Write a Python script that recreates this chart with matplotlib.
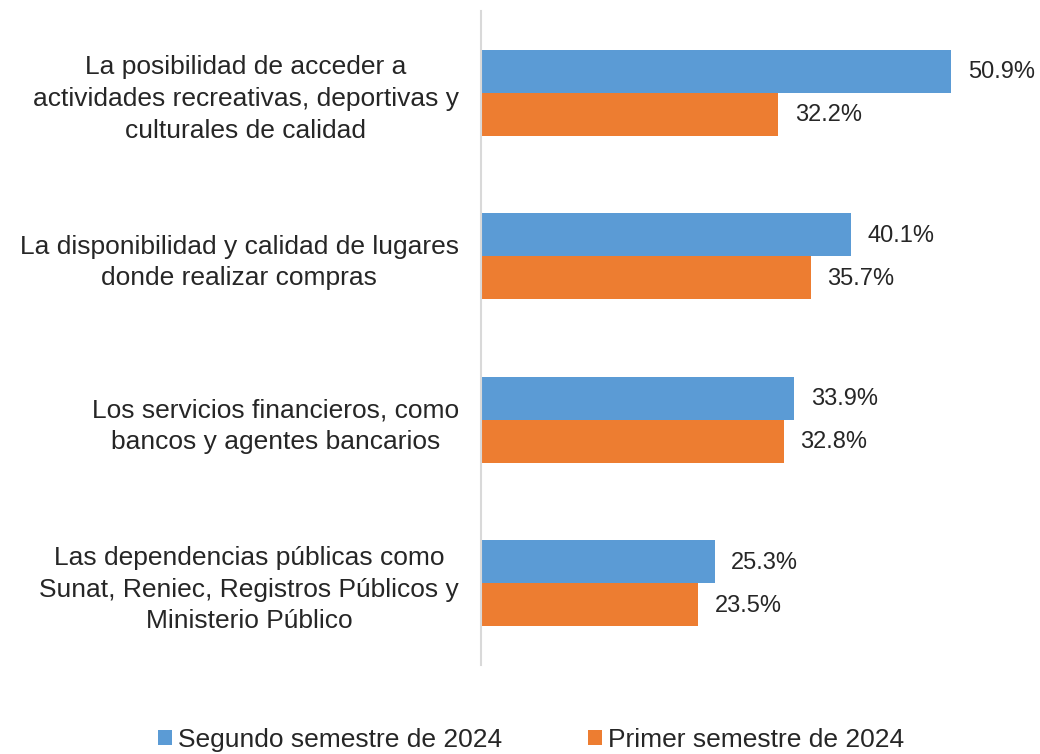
import matplotlib
matplotlib.use("Agg")
import matplotlib.pyplot as plt
import numpy as np

# categories (top to bottom) and the two series, in %
categories = [
    "La posibilidad de acceder a\nactividades recreativas, deportivas y\nculturales de calidad",
    "La disponibilidad y calidad de lugares\ndonde realizar compras",
    "Los servicios financieros, como\nbancos y agentes bancarios",
    "Las dependencias públicas como\nSunat, Reniec, Registros Públicos y\nMinisterio Público",
]
segundo_2024 = [50.9, 40.1, 33.9, 25.3]
primer_2024 = [32.2, 35.7, 32.8, 23.5]
series_names = ["Segundo semestre de 2024", "Primer semestre de 2024"]

blue = "#5B9BD5"
orange = "#ED7D31"
text_color = "#262626"

plt.rcParams["font.family"] = ["Liberation Sans", "DejaVu Sans"]

fig = plt.figure(figsize=(10.4, 7.54), dpi=100)
ax = fig.add_axes([481 / 1040, 1 - 665 / 754, 554 / 1040, 654 / 754])

y = np.arange(len(categories))
h = 0.264
b1 = ax.barh(y - h / 2, segundo_2024, height=h, color=blue, label=series_names[0])
b2 = ax.barh(y + h / 2, primer_2024, height=h, color=orange, label=series_names[1])

for bars, vals in [(b1, segundo_2024), (b2, primer_2024)]:
    for bar, v in zip(bars, vals):
        ax.annotate(f"{v:.1f}%", (bar.get_width(), bar.get_y() + bar.get_height() / 2),
                    xytext=(12, -0.8), textcoords="offset points", va="center", ha="left",
                    fontsize=17, color=text_color)

ax.set_xlim(0, 60)
ax.set_ylim(3.5, -0.5)
ax.set_yticks(y)
ax.set_yticklabels(categories, fontsize=19, color=text_color, multialignment="center",
                   linespacing=1.4)
ax.tick_params(axis="y", length=0, pad=16)
ax.set_xticks([])
for s in ["top", "right", "bottom"]:
    ax.spines[s].set_visible(False)
ax.spines["left"].set_color("#D9D9D9")
ax.spines["left"].set_linewidth(1.5)

fig.legend(handles=[b1, b2], labels=series_names, loc="center left",
           bbox_to_anchor=(158 / 1040, 1 - 740 / 754),
           ncol=2, frameon=False, prop={"size": 19}, borderpad=0, borderaxespad=0,
           handlelength=0.53, handleheight=0.53, handletextpad=0.23, columnspacing=3.25,
           labelcolor=text_color)

fig.savefig("out.png", dpi=100)
